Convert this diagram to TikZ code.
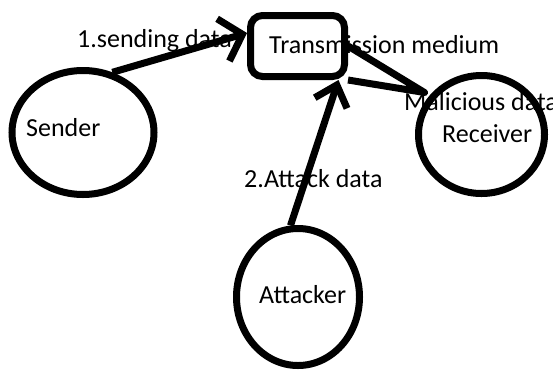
\documentclass[tikz,border=0pt]{standalone}
\usepackage{fontspec}
\setmainfont{Carlito}
\usetikzlibrary{arrows.meta,shapes.geometric,calc}
\begin{document}
\begin{tikzpicture}[x=1pt,y=-1pt,
  lbl/.style={anchor=base west,inner sep=0pt,font=\fontsize{26}{31}\selectfont},
  blob/.style={draw,ellipse,line width=7pt,inner sep=0pt},
  medbox/.style={draw,rectangle,rounded corners=12pt,line width=7pt,inner sep=0pt},
  conn/.style={line width=7pt,line join=round}]
\useasboundingbox (0,0) rectangle (553,370);
% texts (drawn first, lines lie over them)
\node[lbl] (tmedium) at (269,53) {Transmission medium};
\node[lbl] (tsend) at (77,47) {1.sending data};
\node[lbl] (tattack) at (244,187) {2.Attack data};
\node[lbl] (tmal) at (404,110) {Malicious data};
\node[lbl] (tsender) at (26,136) {Sender};
\node[lbl] (treceiver) at (442,142) {Receiver};
\node[lbl] (tattacker) at (259,303) {Attacker};
% shapes
\node[blob,minimum width=142pt,minimum height=124pt] (sender) at (83,132.5) {};
\node[blob,minimum width=126pt,minimum height=118pt] (receiver) at (481.5,134.5) {};
\node[blob,minimum width=123pt,minimum height=137pt] (attacker) at (298,297) {};
\node[medbox,minimum width=94pt,minimum height=61pt] (medium) at (297.5,46) {};
% connectors
\coordinate (rx) at ($(receiver.center)+(-57,-42)$);
\draw[conn,-{Straight Barb[length=20pt,width=44pt]}] (sender.64) -- ($(medium.west)+(0,-13)$);
\draw[conn,-{Straight Barb[length=19pt,width=34pt]}] (attacker.96) -- ($(medium.south)+(41,0)$);
\draw[conn] (medium.east) -- (rx) -- (medium.south east);
\end{tikzpicture}
\end{document}
